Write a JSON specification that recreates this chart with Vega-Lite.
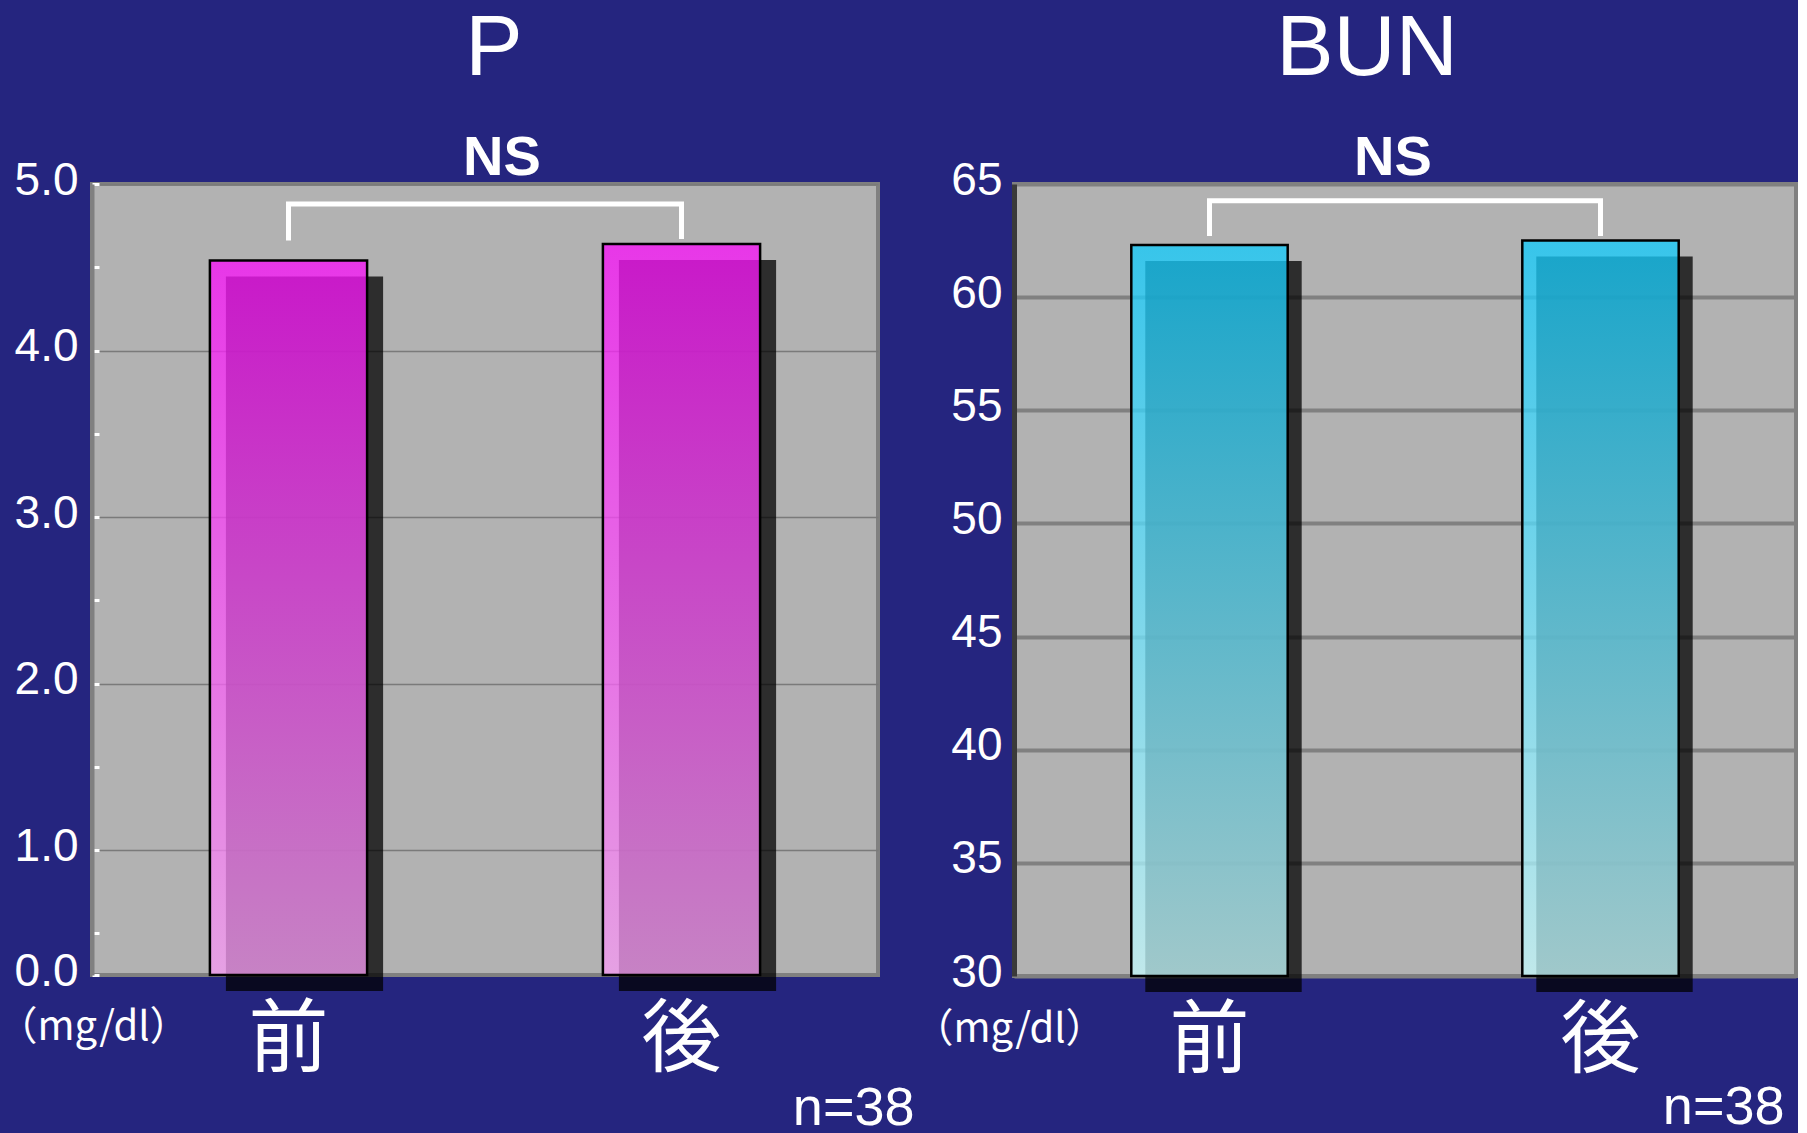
{
  "$schema": "https://vega.github.io/schema/vega-lite/v6.json",
  "background": "#25257f",
  "padding": {"left": -6, "top": 4, "right": 0, "bottom": 0},
  "spacing": -6,
  "config": {
    "font": "Liberation Sans",
    "view": {"fill": "#b2b2b2", "stroke": "#808080", "strokeWidth": 4},
    "title": {"color": "white", "fontWeight": "normal", "fontSize": 86, "font": "Liberation Sans"}
  },
  "hconcat": [
    {
      "width": 786,
      "height": 791,
      "title": {"text": "P", "dx": 9, "offset": 37},
      "layer": [
        {
          "data": {"values": [{"g": "前", "v": 4.54}, {"g": "後", "v": 4.64}]},
          "mark": {"type": "bar", "color": "black", "opacity": 0.75, "xOffset": 16, "x2Offset": 16, "yOffset": 16, "y2Offset": 16},
          "encoding": {
            "x": {
              "field": "g", "type": "nominal", "sort": ["前", "後"], "title": "n=38",
              "scale": {"paddingInner": 0.6, "paddingOuter": 0.3},
              "axis": {
                "labelAngle": 0, "labelFontSize": 80, "labelFont": "Noto Sans CJK JP", "labelColor": "white",
                "labelPadding": 26, "ticks": false, "domain": false,
                "titleFontSize": 54, "titleColor": "white", "titleFontWeight": "normal",
                "titleX": 822, "titleY": 149, "titleAlign": "right", "titleBaseline": "alphabetic"
              }
            },
            "y": {
              "field": "v", "type": "quantitative", "title": "（mg/dl）",
              "scale": {"domain": [0.25, 5], "clamp": true, "zero": false},
              "axis": {
                "values": [0.25, 0.5, 1, 1.5, 2, 2.5, 3, 3.5, 4, 4.5, 5],
                "labelExpr": "datum.value < 0.4 ? '0.0' : (datum.value % 1 == 0 ? format(datum.value, '.1f') : '')",
                "labelOverlap": false,
                "labelFontSize": 46, "labelColor": "white", "labelPadding": 21, "labelOffset": -4,
                "ticks": true, "tickColor": "white", "tickSize": -7, "tickWidth": 3,
                "domainColor": "#808080", "domainWidth": 4,
                "grid": true, "gridColor": "#7a7a7a", "gridWidth": 1.5,
                "gridOpacity": {"condition": {"test": "datum.value % 1 != 0", "value": 0}, "value": 1},
                "titleAngle": 0, "titleX": 1, "titleY": 843,
                "titleAlign": "center", "titleBaseline": "middle", "titleFontSize": 40,
                "titleFont": "Noto Sans CJK JP", "titleFontWeight": "normal", "titleColor": "white"
              }
            }
          }
        },
        {
          "data": {"values": [{"g": "前", "v": 4.54}, {"g": "後", "v": 4.64}]},
          "mark": {
            "type": "bar",
            "fill": {"gradient": "linear", "x1": 0, "y1": 0, "x2": 0, "y2": 1,
              "stops": [{"offset": 0, "color": "#f812f8"}, {"offset": 1, "color": "#f59cf2"}]},
            "fillOpacity": 0.77,
            "stroke": "black",
            "strokeWidth": 2.5
          },
          "encoding": {
            "x": {"field": "g", "type": "nominal", "sort": ["前", "後"], "title": "n=38"},
            "y": {"field": "v", "type": "quantitative", "title": "（mg/dl）", "scale": {"domain": [0.25, 5], "clamp": true, "zero": false}}
          }
        },
        {
          "data": {"values": [
            {"g": "前", "b": 4.66, "k": 1},
            {"g": "前", "b": 4.88, "k": 2},
            {"g": "後", "b": 4.88, "k": 3},
            {"g": "後", "b": 4.67, "k": 4}
          ]},
          "mark": {"type": "line", "color": "white", "strokeWidth": 5, "strokeJoin": "miter"},
          "encoding": {
            "x": {"field": "g", "type": "nominal", "sort": ["前", "後"], "title": "n=38"},
            "y": {"field": "b", "type": "quantitative", "title": "（mg/dl）", "scale": {"domain": [0.25, 5], "clamp": true, "zero": false}},
            "order": {"field": "k"}
          }
        },
        {
          "data": {"values": [{"label": "NS"}]},
          "mark": {"type": "text", "color": "white", "fontSize": 56, "fontWeight": "bold", "baseline": "alphabetic", "dy": -9, "dx": 17},
          "encoding": {
            "y": {"datum": 5, "title": "（mg/dl）", "scale": {"domain": [0.25, 5], "clamp": true, "zero": false}},
            "text": {"field": "label"}
          }
        }
      ]
    },
    {
      "width": 782,
      "height": 792,
      "title": {"text": "BUN", "dx": -38, "offset": 37},
      "layer": [
        {
          "data": {"values": [{"g": "前", "v": 62.3}, {"g": "後", "v": 62.5}]},
          "mark": {"type": "bar", "color": "black", "opacity": 0.75, "xOffset": 14, "x2Offset": 14, "yOffset": 16, "y2Offset": 16},
          "encoding": {
            "x": {
              "field": "g", "type": "nominal", "sort": ["前", "後"], "title": "n=38",
              "scale": {"paddingInner": 0.6, "paddingOuter": 0.3},
              "axis": {
                "labelAngle": 0, "labelFontSize": 80, "labelFont": "Noto Sans CJK JP", "labelColor": "white",
                "labelPadding": 26, "ticks": false, "domain": false,
                "titleFontSize": 54, "titleColor": "white", "titleFontWeight": "normal",
                "titleX": 770, "titleY": 147, "titleAlign": "right", "titleBaseline": "alphabetic"
              }
            },
            "y": {
              "field": "v", "type": "quantitative", "title": "（mg/dl）",
              "scale": {"domain": [30, 65], "clamp": true, "zero": false},
              "axis": {
                "values": [30, 35, 40, 45, 50, 55, 60, 65],
                "format": "d",
                "labelFontSize": 46, "labelColor": "white", "labelPadding": 12, "labelOffset": -4,
                "ticks": false, "domainColor": "#3a3a3a", "domainWidth": 5,
                "grid": true, "gridColor": "#808080", "gridWidth": 4,
                "titleAngle": 0, "titleX": -5, "titleY": 845,
                "titleAlign": "center", "titleBaseline": "middle", "titleFontSize": 40,
                "titleFont": "Noto Sans CJK JP", "titleFontWeight": "normal", "titleColor": "white"
              }
            }
          }
        },
        {
          "data": {"values": [{"g": "前", "v": 62.3}, {"g": "後", "v": 62.5}]},
          "mark": {
            "type": "bar",
            "fill": {"gradient": "linear", "x1": 0, "y1": 0, "x2": 0, "y2": 1,
              "stops": [{"offset": 0, "color": "#11cbfc"}, {"offset": 1, "color": "#c4f9fc"}]},
            "fillOpacity": 0.76,
            "stroke": "black",
            "strokeWidth": 2.5
          },
          "encoding": {
            "x": {"field": "g", "type": "nominal", "sort": ["前", "後"], "title": "n=38"},
            "y": {"field": "v", "type": "quantitative", "title": "（mg/dl）", "scale": {"domain": [30, 65], "clamp": true, "zero": false}}
          }
        },
        {
          "data": {"values": [
            {"g": "前", "b": 62.7, "k": 1},
            {"g": "前", "b": 64.26, "k": 2},
            {"g": "後", "b": 64.26, "k": 3},
            {"g": "後", "b": 62.7, "k": 4}
          ]},
          "mark": {"type": "line", "color": "white", "strokeWidth": 5, "strokeJoin": "miter"},
          "encoding": {
            "x": {"field": "g", "type": "nominal", "sort": ["前", "後"], "title": "n=38"},
            "y": {"field": "b", "type": "quantitative", "title": "（mg/dl）", "scale": {"domain": [30, 65], "clamp": true, "zero": false}},
            "order": {"field": "k"}
          }
        },
        {
          "data": {"values": [{"label": "NS"}]},
          "mark": {"type": "text", "color": "white", "fontSize": 56, "fontWeight": "bold", "baseline": "alphabetic", "dy": -9, "dx": -12},
          "encoding": {
            "y": {"datum": 65, "title": "（mg/dl）", "scale": {"domain": [30, 65], "clamp": true, "zero": false}},
            "text": {"field": "label"}
          }
        }
      ]
    }
  ]
}
